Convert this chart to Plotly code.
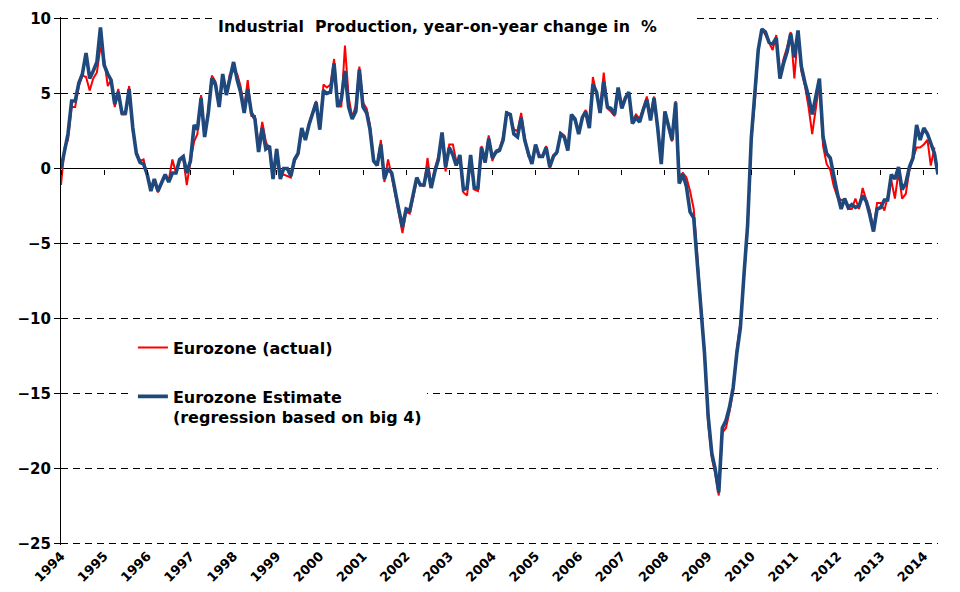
import pandas as pd
import plotly.graph_objects as go

# Monthly year-on-year change in %, Jan 1994 onwards
actual = [
    -1.1, 1.4, 1.9, 4.1, 4.1, 5.5, 6.2, 6.1, 5.2, 6.0, 6.4, 8.1,        # 1994
    7.3, 5.5, 5.9, 4.1, 5.3, 3.6, 3.6, 5.5, 2.5, 1.1, 0.5, 0.6,         # 1995
    -0.5, -1.2, -0.9, -1.6, -1.0, -0.5, -0.8, 0.6, -0.3, 0.5, 0.7, -1.1,  # 1996
    0.5, 1.8, 2.3, 4.9, 2.2, 3.9, 6.2, 5.8, 4.2, 6.2, 5.0, 6.3,         # 1997
    6.5, 6.3, 5.5, 4.0, 5.9, 3.5, 3.5, 1.5, 3.1, 1.8, 1.2, -0.6,        # 1998
    1.3, -0.5, -0.4, -0.5, -0.6, 0.5, 0.9, 2.5, 2.0, 3.0, 3.8, 4.5,     # 1999
    2.6, 5.6, 5.4, 5.6, 7.3, 4.3, 4.1, 8.2, 4.8, 3.4, 4.2, 6.8,         # 2000
    4.4, 4.0, 2.9, 0.6, 0.2, 1.9, -0.9, 0.6, -0.5, -1.8, -3.0, -4.3,    # 2001
    -2.9, -3.0, -2.0, -0.8, -1.0, -1.2, 0.7, -1.2, 0.0, 0.8, 2.2, -0.2,  # 2002
    1.6, 1.6, 0.5, 0.6, -1.6, -1.8, 0.7, -1.4, -1.5, 1.5, 0.4, 2.2,     # 2003
    0.5, 1.2, 1.3, 2.1, 3.8, 3.5, 2.6, 2.5, 3.7, 2.0, 0.8, 0.6,         # 2004
    1.4, 0.9, 0.8, 1.5, 0.0, 0.9, 1.0, 2.4, 2.2, 1.3, 3.4, 3.2,         # 2005
    2.5, 3.4, 3.9, 2.8, 6.1, 5.0, 3.9, 6.4, 4.0, 3.8, 3.5, 5.3,         # 2006
    4.2, 4.8, 5.0, 3.2, 3.6, 3.3, 4.1, 4.8, 3.5, 4.8, 2.8, 0.5,         # 2007
    3.7, 2.7, 1.8, 4.5, -0.5, -0.3, -0.6, -1.5, -2.7, -5.8, -9.0, -12.3,  # 2008
    -17.0, -19.3, -20.3, -21.8, -17.6, -17.3, -16.2, -14.8, -12.0, -10.3, -7.2, -3.9,  # 2009
    1.8, 4.5, 7.9, 9.3, 8.9, 8.4, 7.9, 8.9, 6.0, 7.3, 8.1, 9.1,         # 2010
    6.0, 9.1, 6.5, 5.5, 4.1, 2.3, 4.0, 5.7, 1.5, 0.3, -0.1, -1.2,       # 2011
    -1.9, -2.1, -2.1, -2.7, -2.7, -2.0, -2.7, -1.3, -2.1, -2.8, -4.1, -2.3,  # 2012
    -2.3, -2.8, -1.9, -0.8, -2.0, -0.2, -2.0, -1.7, -0.1, 0.7, 1.4, 1.4,  # 2013
    1.6, 1.9, 0.2, 1.4,                                                  # 2014
]

estimate = [
    0.0, 1.3, 2.3, 4.5, 4.5, 5.7, 6.3, 7.7, 6.0, 6.5, 7.1, 9.4,         # 1994
    6.9, 6.3, 5.9, 4.3, 5.1, 3.7, 3.7, 5.3, 2.7, 1.0, 0.4, 0.3,         # 1995
    -0.4, -1.5, -0.7, -1.5, -1.0, -0.4, -0.9, -0.3, -0.3, 0.6, 0.8, -0.3,  # 1996
    0.5, 2.9, 2.6, 4.7, 2.1, 3.7, 6.0, 5.6, 4.1, 6.3, 4.9, 5.9,         # 1997
    7.1, 5.9, 5.1, 3.7, 5.3, 3.7, 3.3, 1.1, 2.7, 1.3, 1.5, -0.7,        # 1998
    1.3, -0.7, 0.0, 0.0, -0.5, 0.6, 1.0, 2.7, 1.9, 2.9, 3.7, 4.4,       # 1999
    2.6, 5.2, 5.0, 5.1, 7.0, 4.1, 4.6, 6.5, 4.1, 3.3, 3.8, 6.6,         # 2000
    4.1, 3.7, 2.6, 0.5, 0.2, 1.6, -0.7, 0.0, -0.3, -1.7, -2.8, -3.9,    # 2001
    -2.7, -2.8, -1.8, -0.6, -1.1, -1.1, 0.1, -1.3, -0.2, 0.6, 2.4, 0.1,  # 2002
    1.4, 0.9, 0.2, 0.9, -1.4, -1.3, 0.9, -1.3, -1.3, 1.4, 0.4, 2.0,     # 2003
    0.7, 1.1, 1.2, 1.9, 3.7, 3.6, 2.3, 2.1, 3.4, 1.9, 1.0, 0.3,         # 2004
    1.6, 0.8, 0.8, 1.4, 0.1, 0.8, 1.1, 2.3, 2.1, 1.2, 3.6, 3.3,         # 2005
    2.3, 3.4, 3.8, 2.7, 5.6, 5.1, 3.7, 5.8, 4.1, 4.0, 3.6, 5.4,         # 2006
    4.0, 4.7, 5.1, 3.0, 3.4, 3.1, 3.9, 4.6, 3.2, 4.7, 2.7, 0.3,         # 2007
    3.8, 2.8, 1.9, 4.4, -1.0, -0.4, -1.2, -2.9, -3.3, -6.3, -9.4, -12.3,  # 2008
    -16.5, -19.0, -20.0, -21.6, -17.3, -16.8, -15.9, -14.6, -12.3, -10.6, -7.0, -3.8,  # 2009
    2.0, 4.8, 7.9, 9.3, 9.1, 8.4, 8.3, 8.7, 6.0, 7.0, 7.8, 9.0,         # 2010
    7.4, 9.2, 6.8, 5.7, 4.8, 3.6, 4.8, 6.0, 2.1, 1.0, 0.7, -0.6,        # 2011
    -1.7, -2.7, -2.0, -2.6, -2.4, -2.6, -2.5, -1.8, -2.2, -3.1, -4.2, -2.7,  # 2012
    -2.6, -2.1, -2.1, -0.4, -0.7, 0.1, -1.4, -1.0, 0.1, 0.7, 2.9, 1.9,  # 2013
    2.7, 2.3, 1.7, 1.0, -0.4,                                            # 2014
]

years = list(range(1994, 2015))
y_ticks = [10, 5, 0, -5, -10, -15, -20, -25]
series_names = ["Eurozone (actual)", "Eurozone Estimate<br>(regression based on big 4)"]
title_text = "Industrial\u00a0 Production, year-on-year change in\u00a0 %"

months_actual = pd.date_range("1994-01-01", periods=len(actual), freq="MS")
months_est = pd.date_range("1994-01-01", periods=len(estimate), freq="MS")
year_ticks = [pd.Timestamp(f"{y}-01-01") for y in years]
x_range = [months_est[0], months_est[-1]]
y_range = [-25.1, 10.1]
zero_pos = (0 - y_range[0]) / (y_range[1] - y_range[0])

FONT = "DejaVu Sans"

fig = go.Figure()
fig.add_trace(go.Scatter(
    x=months_actual, y=actual, name=series_names[0], mode="lines",
    line=dict(color="#FF0000", width=2), legendgroup="a",
    xaxis="x", yaxis="y",
))
fig.add_trace(go.Scatter(
    x=months_est, y=estimate, name=series_names[1], mode="lines",
    line=dict(color="#1F497D", width=3.6), legendgroup="b",
    xaxis="x2", yaxis="y",
))

fig.update_layout(
    width=960, height=592, autosize=False,
    margin=dict(l=61, r=22, t=17, b=47),
    paper_bgcolor="white", plot_bgcolor="white",
    font=dict(family=FONT, color="black"),
    xaxis=dict(
        range=x_range, tickmode="array", tickvals=year_ticks,
        ticktext=[str(y) for y in years], tickangle=-45,
        tickfont=dict(family=FONT, size=13, weight="bold", color="black"),
        showgrid=False, zeroline=False, showline=False, ticks="",
        automargin=False,
    ),
    xaxis2=dict(
        range=x_range, overlaying="x", anchor="free", position=zero_pos,
        tickmode="array", tickvals=year_ticks, showticklabels=False,
        ticks="outside", ticklen=5, tickcolor="black", tickwidth=1,
        showgrid=False, zeroline=False, showline=False, automargin=False,
    ),
    yaxis=dict(
        range=y_range, tickmode="array", tickvals=y_ticks,
        showgrid=True, gridcolor="black", gridwidth=1, griddash="7px,5px",
        zeroline=True, zerolinecolor="black", zerolinewidth=1,
        showline=True, linecolor="black", linewidth=1,
        ticks="outside", ticklen=6, tickcolor="black",
        tickfont=dict(family=FONT, size=15, weight="bold", color="black"),
        automargin=False,
    ),
    legend=dict(
        x=0.082, y=0.406, xanchor="left", yanchor="top",
        bgcolor="white", borderwidth=0,
        font=dict(family=FONT, size=16, weight="bold", color="black"),
        traceorder="grouped", tracegroupgap=25, valign="top",
    ),
    annotations=[dict(
        text=title_text, xref="paper", yref="paper",
        x=0.4487, y=0.983, xanchor="center", yanchor="middle",
        width=473, height=18, align="left", valign="middle",
        bgcolor="white", borderpad=3, showarrow=False,
        font=dict(family=FONT, size=15.8, weight="bold", color="black"),
    )],
    showlegend=True,
)

fig.write_html("out.html")
